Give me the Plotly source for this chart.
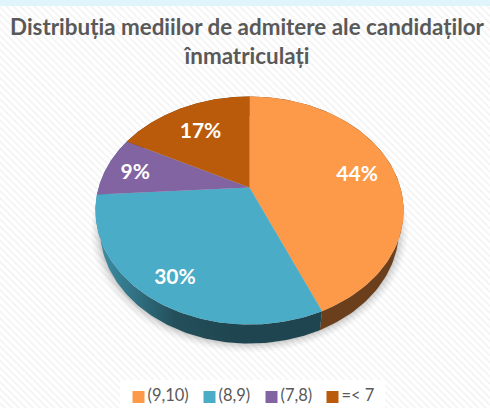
import numpy as np
import plotly.graph_objects as go

categories = ["(9,10)", "(8,9)", "(7,8)", "=< 7"]
values = [43.6, 30.4, 8.6, 17.4]
labels = ["44%", "30%", "9%", "17%"]
colors = ["#FD9A4A", "#4AACC6", "#8264A2", "#B95B0A"]
wall_colors = [
    [[0, "#6B3F1C"], [1, "#6B3F1C"]],
    [[0, "#3A8AA0"], [0.55, "#24505C"], [1, "#1F4650"]],
    [[0, "#3A8AA0"], [1, "#3A8AA0"]],
    [[0, "#6B3F1C"], [1, "#6B3F1C"]],
]
label_radius = [0.75, 0.81, 0.8, 0.7]
legend_x = [138.5, 209.5, 271.5, 332.5]

W, H = 490, 408
CX, CY = 249.5, 187.5
A, C, D = 109.4, 0.2018, 150.9
DEPTH, WALL_K = 19, 0.97


def project(theta, r=1.0):
    u = r * np.sin(theta)
    v = r * np.cos(theta)
    den = 1 + C * v
    return CX + D * u / den, CY - A * v / den


fig = go.Figure()
# hatched page background
fig.add_trace(go.Scatter(
    x=[0, W, W, 0, 0], y=[0, 0, H, H, 0], mode="lines", fill="toself",
    line=dict(width=0), fillcolor="#FFFFFF", hoverinfo="skip", showlegend=False,
    fillpattern=dict(shape="\\", fgcolor="#E6E6E6", bgcolor="#FFFFFF", size=5, solidity=0.3),
))
# white panel behind the legend
fig.add_trace(go.Scatter(
    x=[120, 385, 385, 120, 120], y=[380, 380, H, H, 380], mode="lines", fill="toself",
    line=dict(width=0), fillcolor="#FFFFFF", hoverinfo="skip", showlegend=False,
))

edges = 2 * np.pi * np.concatenate([[0], np.cumsum(values)]) / np.sum(values)
full = np.linspace(0, 2 * np.pi, 361)

# soft shadow below the pie
fx, fy = project(full)
for spread, alpha in [(9, 0.025), (7, 0.04), (5, 0.05), (3, 0.07), (1, 0.09)]:
    sx = CX + (fx - CX) * (WALL_K + spread / 150)
    sy = fy + DEPTH + spread * 0.2 + (fy - 211) * spread / 150
    fig.add_trace(go.Scatter(
        x=sx, y=sy, mode="lines", fill="toself", line=dict(width=0),
        fillcolor=f"rgba(60,60,60,{alpha})", hoverinfo="skip", showlegend=False,
    ))

# side wall
for i in range(len(values)):
    th = np.linspace(edges[i], edges[i + 1], 120)
    x, y = project(th)
    x2 = CX + (x - CX) * WALL_K
    y2 = y + DEPTH
    grad = dict(type="horizontal", colorscale=wall_colors[i], start=105, stop=230)
    fig.add_trace(go.Scatter(
        x=np.concatenate([x, x2[::-1]]), y=np.concatenate([y, y2[::-1]]),
        mode="lines", fill="toself", line=dict(width=0),
        fillgradient=grad, hoverinfo="skip", showlegend=False,
    ))

# top face
for i, cat in enumerate(categories):
    th = np.linspace(edges[i], edges[i + 1], 120)
    x, y = project(th)
    fig.add_trace(go.Scatter(
        x=np.concatenate([[CX], x, [CX]]), y=np.concatenate([[CY], y, [CY]]),
        mode="lines", fill="toself", line=dict(width=0), fillcolor=colors[i],
        name=cat, showlegend=False, hoverinfo="name",
    ))

# percentage labels
mids = (edges[:-1] + edges[1:]) / 2
lx, ly = project(mids, np.array(label_radius))
fig.add_trace(go.Scatter(
    x=lx, y=ly + 4, mode="text", text=labels, textposition="middle center",
    textfont=dict(family="Lato, sans-serif", size=21, color="#FFFFFF", weight="bold"),
    hoverinfo="skip", showlegend=False,
))

# legend
fig.add_trace(go.Scatter(
    x=legend_x, y=[397] * len(legend_x), mode="markers",
    marker=dict(symbol="square", size=12, color=colors),
    hoverinfo="skip", showlegend=False,
))
fig.add_trace(go.Scatter(
    x=[v + 9 for v in legend_x], y=[397] * len(legend_x), mode="text", text=categories,
    textposition="middle right",
    textfont=dict(family="Lato, sans-serif", size=16.5, color="#595959"),
    hoverinfo="skip", showlegend=False,
))

fig.update_layout(
    width=W, height=H, autosize=False,
    margin=dict(l=0, r=0, t=0, b=0),
    paper_bgcolor="#FFFFFF", plot_bgcolor="#FFFFFF",
    showlegend=False,
    xaxis=dict(range=[0, W], visible=False, fixedrange=True),
    yaxis=dict(range=[H, 0], visible=False, fixedrange=True),
    title=dict(
        text="<b>Distribuția mediilor de admitere ale candidaților<br>înmatriculați</b>",
        x=247 / W, xanchor="center", y=1 - 35 / H, yanchor="middle",
        font=dict(family="Lato, sans-serif", size=22.4, color="#595959"),
    ),
    shapes=[
        dict(type="rect", xref="x", yref="y", x0=0, x1=W, y0=0, y1=6,
             fillcolor="#E0F5FB", line_width=0, layer="above"),
    ],
)
fig.write_html(
    "out.html", config=dict(displayModeBar=False),
    post_script="document.body.style.margin='0';document.documentElement.style.overflow='hidden';",
)
